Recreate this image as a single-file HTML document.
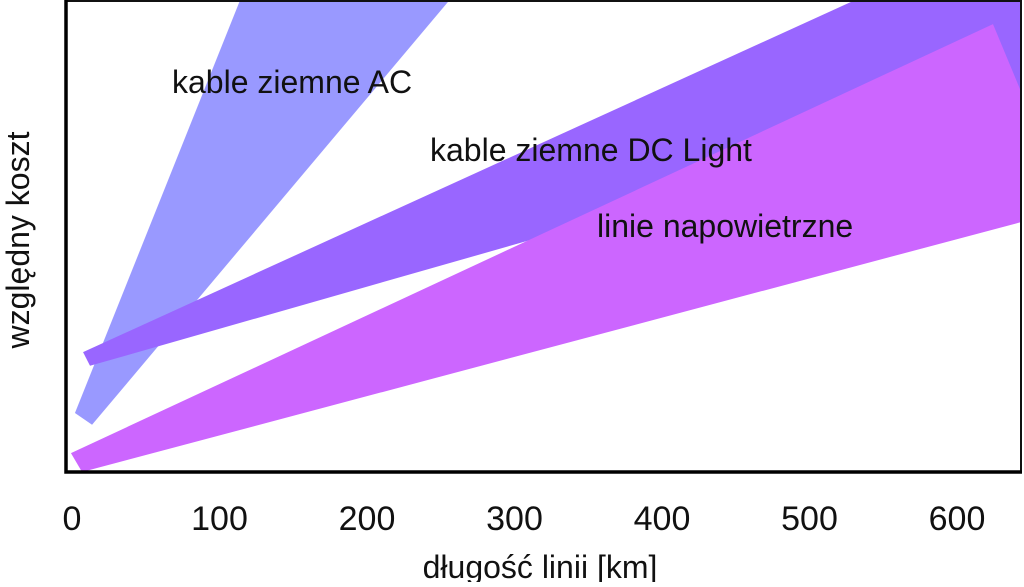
<!DOCTYPE html>
<html><head><meta charset="utf-8"><style>
body{margin:0;background:#fff;width:1024px;height:582px;overflow:hidden}
svg text{font-family:"Liberation Sans",sans-serif;fill:#111}
</style></head><body>
<svg id="c" width="1024" height="582"></svg>
<script>
const xTicks=[0,100,200,300,400,500,600];
const acKm=[2,13.6,256,114];
const acCost=[12.5,10,100,100];
const dcKm=[7.5,12.2,643,643,531];
const dcCost=[25.4,22.5,78.8,100,100];
const ohKm=[-0.7,6.8,643,643,624.4];
const ohCost=[4,0,52.9,80.9,94.9];
const X=v=>72+v*1.475, Y=c=>472-c*4.72;
const NS="http://www.w3.org/2000/svg", svg=document.getElementById('c');
function mk(t,a,p){const e=document.createElementNS(NS,t);for(const k in a)e.setAttribute(k,a[k]);(p||svg).appendChild(e);return e;}
const defs=mk('defs',{});const cp=mk('clipPath',{id:'clip'},defs);mk('rect',{x:66,y:1,width:956,height:471},cp);
function band(km,cost,color,name){
 const pts=km.map((k,i)=>X(k)+','+Y(cost[i])).join(' ');
 const p=mk('polygon',{points:pts,fill:color,'clip-path':'url(#clip)'});
 
 
}
band(acKm,acCost,'#9999ff','band-ac-cables');
band(dcKm,dcCost,'#9966ff','band-dc-light-cables');
band(ohKm,ohCost,'#cc66ff','band-overhead-lines');
const fr=mk('path',{d:'M66,1 H1021 V472',fill:'none',stroke:'#111','stroke-width':2});


const ax=mk('path',{d:'M66,0 V472 H1022',fill:'none',stroke:'#000','stroke-width':3.5});


xTicks.forEach(v=>{const t=mk('text',{x:X(v),y:530,'font-size':34,'text-anchor':'middle'});t.textContent=v;
 
 });
function lab(x,y,s,txt,name,extra){const t=mk('text',Object.assign({x:x,y:y,'font-size':s},extra||{}));t.textContent=txt;
 
 }
lab(172,93,32,'kable ziemne AC','label-ac');
lab(430,161,32,'kable ziemne DC Light','label-dc-light');
lab(597,237,32,'linie napowietrzne','label-overhead');
lab(540,578,32,'długość linii [km]','x-axis-title',{'text-anchor':'middle'});
lab(0,0,32,'względny koszt','y-axis-title',{'text-anchor':'middle',transform:'translate(29,240) rotate(-90)'});
</script>
</body></html>
